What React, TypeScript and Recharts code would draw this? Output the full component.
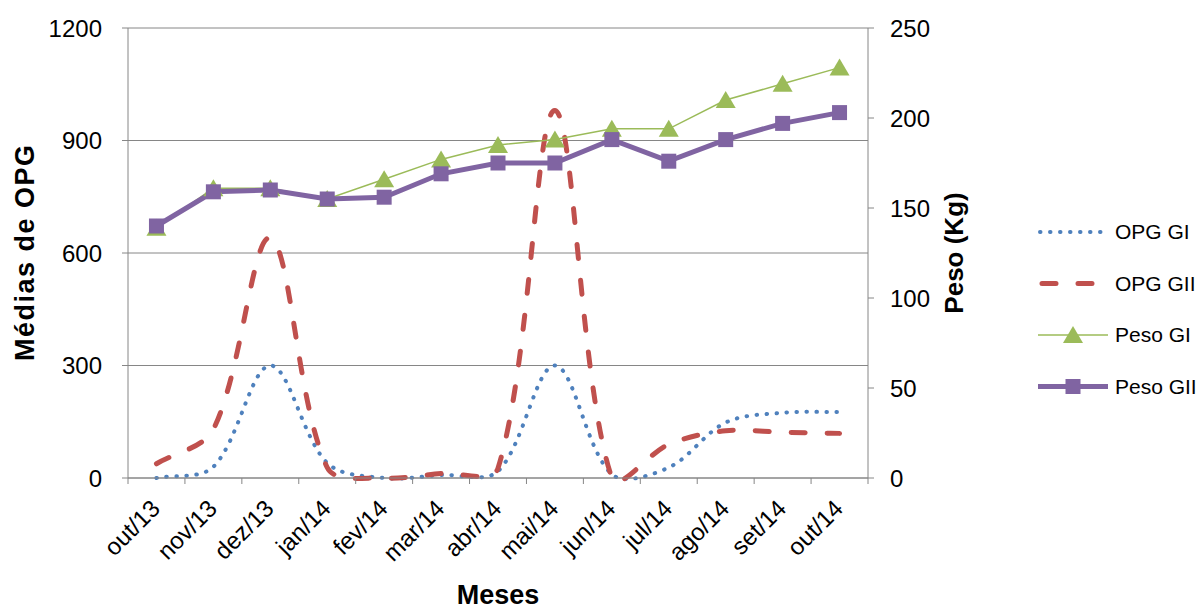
import React from 'react';
import { ComposedChart, Line, XAxis, YAxis, CartesianGrid, Legend } from 'recharts';

const months = ['out/13', 'nov/13', 'dez/13', 'jan/14', 'fev/14', 'mar/14', 'abr/14', 'mai/14', 'jun/14', 'jul/14', 'ago/14', 'set/14', 'out/14'];
const opgGI = [0, 30, 300, 40, 0, 8, 18, 300, 10, 28, 148, 174, 176];
const opgGII = [38, 130, 640, 28, 0, 12, 26, 980, 0, 90, 126, 122, 119];
const pesoGI = [139, 161, 161, 155, 166, 177, 185, 188, 194, 194, 210, 219, 228];
const pesoGII = [140, 159, 160, 155, 156, 169, 175, 175, 188, 176, 188, 197, 203];
const opgTicks = [0, 300, 600, 900, 1200];
const pesoTicks = [0, 50, 100, 150, 200, 250];

const rows = months.map((m, i) => ({
  month: m,
  opgGI: opgGI[i],
  opgGII: opgGII[i],
  pesoGI: pesoGI[i],
  pesoGII: pesoGII[i],
}));

const FONT = '"Liberation Sans", Arial, sans-serif';
const AXIS = '#868686';
const BLUE = '#4F81BD';
const RED = '#C0504D';
const GREEN = '#9BBB59';
const PURPLE = '#8064A2';

const W = 1203;
const H = 611;
const PLOT_LEFT = 128;
const PLOT_RIGHT = 868;
const BAND = (PLOT_RIGHT - PLOT_LEFT) / months.length;

// spreadsheet-style smoothing: bezier arms follow neighbour direction,
// scaled by the length of each adjacent segment so short hops don't overshoot
const smoothCurve = (context: any) => {
  let pts: number[][] = [];
  return {
    areaStart() {},
    areaEnd() {},
    lineStart() {
      pts = [];
    },
    point(x: number, y: number) {
      pts.push([+x, +y]);
    },
    lineEnd() {
      if (!pts.length) return;
      const n = pts.length;
      const dist = (a: number[], b: number[]) => Math.hypot(b[0] - a[0], b[1] - a[1]);
      const arms = pts.map((p, i) => {
        const prev = pts[i - 1] || p;
        const next = pts[i + 1] || p;
        const dp = dist(prev, p);
        const dn = dist(p, next);
        const sum = dp + dn || 1;
        const tx = next[0] - prev[0];
        const ty = next[1] - prev[1];
        const f = 1 / 3;
        return {
          inX: p[0] - tx * f * (dp / sum),
          inY: p[1] - ty * f * (dp / sum),
          outX: p[0] + tx * f * (dn / sum),
          outY: p[1] + ty * f * (dn / sum),
        };
      });
      context.moveTo(pts[0][0], pts[0][1]);
      for (let i = 0; i < n - 1; i++) {
        context.bezierCurveTo(arms[i].outX, arms[i].outY, arms[i + 1].inX, arms[i + 1].inY, pts[i + 1][0], pts[i + 1][1]);
      }
    },
  };
};

const Triangle = ({ cx, cy }: any) =>
  cx == null ? null : <polygon points={`${cx},${cy - 9} ${cx + 10},${cy + 8} ${cx - 10},${cy + 8}`} fill={GREEN} />;

const Square = ({ cx, cy }: any) =>
  cx == null ? null : <rect x={cx - 7.5} y={cy - 7.5} width={15} height={15} fill={PURPLE} />;

const MonthTick = ({ x, y, payload, index }: any) => {
  const half = BAND / 2;
  const ax = x + 5;
  const ay = y + 32;
  return (
    <g>
      <line x1={x - half} y1={y} x2={x - half} y2={y + 6} stroke={AXIS} />
      {index === months.length - 1 && <line x1={x + half} y1={y} x2={x + half} y2={y + 6} stroke={AXIS} />}
      <text
        x={ax}
        y={ay}
        transform={`rotate(-45 ${ax} ${ay})`}
        textAnchor="end"
        fontSize={24}
        fontFamily={FONT}
        fill="#000"
      >
        {payload.value}
      </text>
    </g>
  );
};

const legendItems = [
  { name: 'OPG GI', kind: 'dot' },
  { name: 'OPG GII', kind: 'dash' },
  { name: 'Peso GI', kind: 'tri' },
  { name: 'Peso GII', kind: 'sq' },
];

const renderLegend = () => (
  <svg width={168} height={200} style={{ display: 'block' }}>
    {legendItems.map((it, i) => {
      const cy = 20 + i * 51.5;
      return (
        <g key={it.name}>
          {it.kind === 'dot' && (
            <line x1={5} y1={cy} x2={70} y2={cy} stroke={BLUE} strokeWidth={4} strokeDasharray="0.5 9.5" strokeLinecap="round" />
          )}
          {it.kind === 'dash' && (
            <line x1={7} y1={cy} x2={70} y2={cy} stroke={RED} strokeWidth={5} strokeDasharray="14 22" strokeLinecap="round" />
          )}
          {it.kind === 'tri' && (
            <g>
              <line x1={3} y1={cy} x2={73} y2={cy} stroke={GREEN} strokeWidth={1.5} />
              <Triangle cx={38} cy={cy} />
            </g>
          )}
          {it.kind === 'sq' && (
            <g>
              <line x1={3} y1={cy} x2={73} y2={cy} stroke={PURPLE} strokeWidth={5} />
              <Square cx={38} cy={cy} />
            </g>
          )}
          <text x={80} y={cy} dy="0.35em" fontSize={21} fontFamily={FONT} fill="#000">
            {it.name}
          </text>
        </g>
      );
    })}
  </svg>
);

const titleStyle = { fontWeight: 'bold' as const, fontFamily: FONT, fill: '#000' };

export default function App() {
  return (
    <div style={{ position: 'absolute', left: 0, top: 0, width: W, height: H, background: '#fff' }}>
      <ComposedChart width={W} height={H} data={rows} margin={{ top: 28, right: 0, bottom: 0, left: 0 }}>
        <CartesianGrid yAxisId="left" vertical={false} stroke={AXIS} strokeWidth={1} />
        <XAxis
          dataKey="month"
          scale="band"
          height={H - 478}
          interval={0}
          tickLine={false}
          tickSize={0}
          tickMargin={0}
          axisLine={{ stroke: AXIS }}
          tick={<MonthTick />}
          label={({ viewBox }: any) => (
            <text x={viewBox.x + viewBox.width / 2} y={604} textAnchor="middle" fontSize={27} {...titleStyle}>
              Meses
            </text>
          )}
        />
        <YAxis
          yAxisId="left"
          width={PLOT_LEFT}
          domain={[0, 1200]}
          ticks={opgTicks}
          interval={0}
          tickSize={6}
          tickMargin={20}
          axisLine={{ stroke: AXIS }}
          tickLine={{ stroke: AXIS }}
          tick={{ fontSize: 24, fontFamily: FONT, fill: '#000' }}
          label={({ viewBox }: any) => {
            const cy = viewBox.y + viewBox.height / 2;
            return (
              <text x={34} y={cy} transform={`rotate(-90 34 ${cy})`} textAnchor="middle" fontSize={27} textLength={216} lengthAdjust="spacing" {...titleStyle}>
                Médias de OPG
              </text>
            );
          }}
        />
        <YAxis
          yAxisId="right"
          orientation="right"
          width={W - PLOT_RIGHT}
          domain={[0, 250]}
          ticks={pesoTicks}
          interval={0}
          tickSize={6}
          tickMargin={16}
          axisLine={{ stroke: AXIS }}
          tickLine={{ stroke: AXIS }}
          tick={{ fontSize: 24, fontFamily: FONT, fill: '#000', textAnchor: 'start' }}
          label={({ viewBox }: any) => {
            const cy = viewBox.y + viewBox.height / 2;
            return (
              <text x={963} y={cy} transform={`rotate(-90 963 ${cy})`} textAnchor="middle" fontSize={26} {...titleStyle}>
                Peso (Kg)
              </text>
            );
          }}
        />
        <Legend
          layout="vertical"
          align="center"
          verticalAlign="middle"
          wrapperStyle={{ left: 1035, top: 212, width: 168 }}
          content={renderLegend}
        />
        <Line
          yAxisId="left"
          type={smoothCurve as any}
          dataKey="opgGI"
          name="OPG GI"
          stroke={BLUE}
          strokeWidth={4}
          strokeDasharray="0.5 9.5"
          strokeLinecap="round"
          dot={false}
          activeDot={false}
          isAnimationActive={false}
        />
        <Line
          yAxisId="left"
          type={smoothCurve as any}
          dataKey="opgGII"
          name="OPG GII"
          stroke={RED}
          strokeWidth={5}
          strokeDasharray="14 22"
          strokeLinecap="round"
          dot={false}
          activeDot={false}
          isAnimationActive={false}
        />
        <Line
          yAxisId="right"
          type="linear"
          dataKey="pesoGI"
          name="Peso GI"
          stroke={GREEN}
          strokeWidth={1.5}
          dot={<Triangle />}
          activeDot={false}
          isAnimationActive={false}
        />
        <Line
          yAxisId="right"
          type="linear"
          dataKey="pesoGII"
          name="Peso GII"
          stroke={PURPLE}
          strokeWidth={5}
          dot={<Square />}
          activeDot={false}
          isAnimationActive={false}
        />
      </ComposedChart>
    </div>
  );
}
